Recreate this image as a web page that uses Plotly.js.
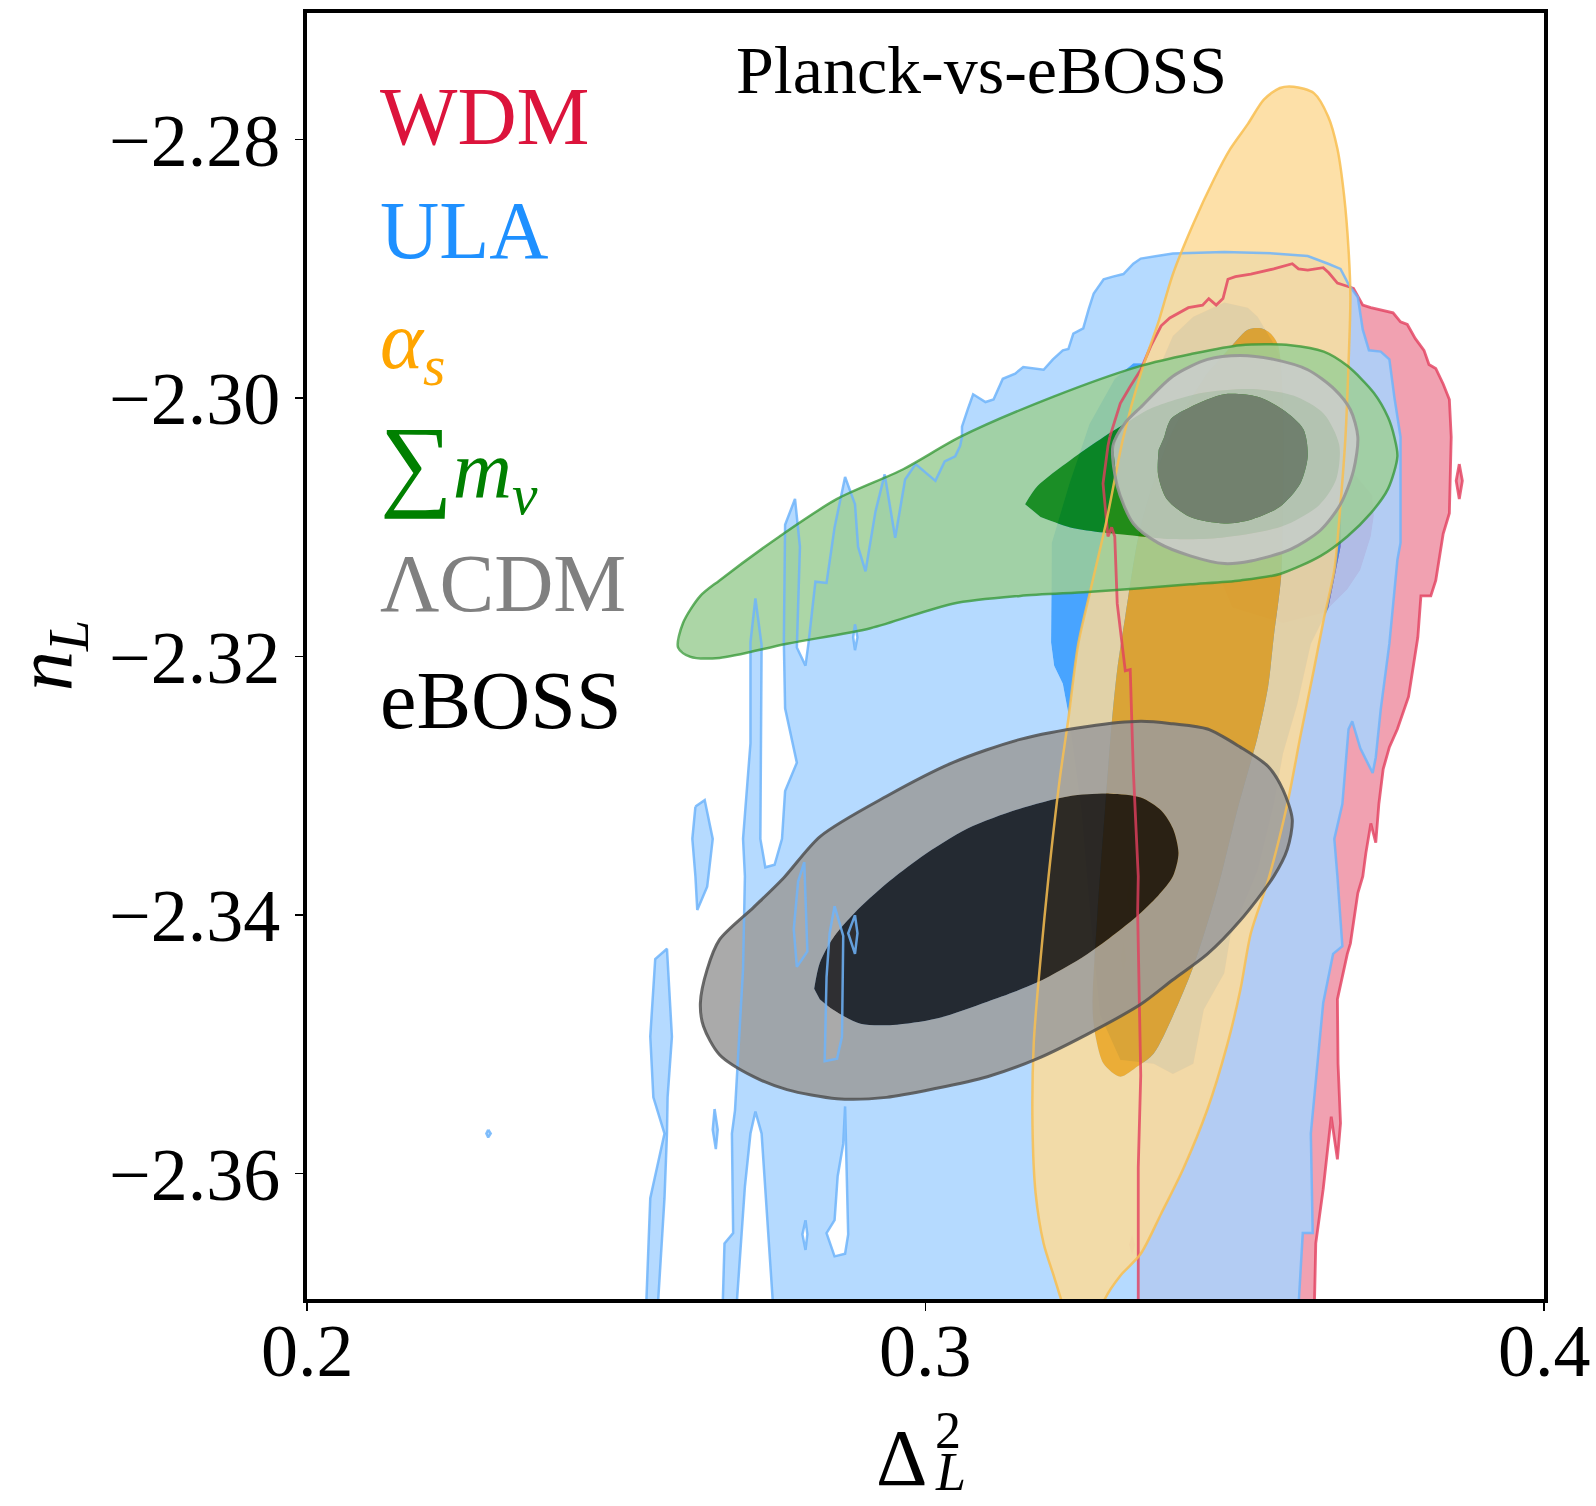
<!DOCTYPE html>
<html>
<head>
<meta charset="utf-8">
<script src="https://cdn.plot.ly/plotly-3.0.1.min.js"></script>
<style>html,body{margin:0;padding:0;background:#fff;}</style>
</head>
<body>
<div id="chart" style="width:1596px;height:1506px;"></div>
<script>
// Posterior contours in the (Delta_L^2, n_L) plane. Each region is a closed outline
// in data units; the 68% region is cut out of the 95% band as a hole.

// ---- WDM ----
const wdm95X = [0.3298,0.3315,0.3331,0.3348,0.3364,0.3381,0.3395,0.3425,0.3448,0.3458,0.3470,0.3481,0.3489,0.3501,0.3526,0.3563,0.3593,0.3603,0.3618,0.3643,0.3652,0.3666,0.3692,0.3707,0.3720,0.3756,0.3768,0.3779,0.3792,0.3806,0.3814,0.3825,0.3837,0.3847,0.3850,0.3847,0.3837,0.3825,0.3817,0.3801,0.3796,0.3781,0.3763,0.3750,0.3740,0.3733,0.3728,0.3720,0.3712,0.3707,0.3699,0.3687,0.3682,0.3666,0.3667,0.3671,0.3666,0.3656,0.3643,0.3631,0.3628,0.3344,0.3344,0.3348,0.3343,0.3344,0.3336,0.3331,0.3323,0.3310,0.3306,0.3301,0.3295,0.3287,0.3295];
const wdm95Y = [-2.3030,-2.3004,-2.2991,-2.2978,-2.2960,-2.2944,-2.2938,-2.2930,-2.2928,-2.2923,-2.2928,-2.2923,-2.2908,-2.2906,-2.2904,-2.2900,-2.2896,-2.2900,-2.2901,-2.2899,-2.2903,-2.2911,-2.2915,-2.2928,-2.2930,-2.2934,-2.2941,-2.2943,-2.2954,-2.2963,-2.2974,-2.2977,-2.2989,-2.3001,-2.3030,-2.3089,-2.3105,-2.3141,-2.3153,-2.3153,-2.3185,-2.3231,-2.3256,-2.3270,-2.3287,-2.3314,-2.3344,-2.3329,-2.3352,-2.3370,-2.3383,-2.3422,-2.3430,-2.3465,-2.3515,-2.3561,-2.3589,-2.3556,-2.3612,-2.3654,-2.3720,-2.3720,-2.3595,-2.3524,-2.3398,-2.3370,-2.3288,-2.3210,-2.3211,-2.3159,-2.3107,-2.3100,-2.3107,-2.3066,-2.3037];
const wdmIslandX = [0.3863,0.3868,0.3863,0.3858];
const wdmIslandY = [-2.3051,-2.3064,-2.3078,-2.3064];
const wdm68X = [0.3463,0.3578,0.3694,0.3722,0.3725,0.3720,0.3703,0.3682,0.3644,0.3578,0.3496,0.3455];
const wdm68Y = [-2.3059,-2.3053,-2.3059,-2.3075,-2.3091,-2.3107,-2.3133,-2.3148,-2.3166,-2.3174,-2.3162,-2.3115];
const wdm68SpotsX = [[0.3331,0.3338,0.3331,0.3325],[0.3320,0.3325,0.3320,0.3315],[0.3334,0.3339,0.3334,0.3329]];
const wdm68SpotsY = [[-2.3371,-2.3386,-2.3401,-2.3386],[-2.3420,-2.3433,-2.3445,-2.3433],[-2.3647,-2.3655,-2.3663,-2.3655]];

// ---- ULA ----
const ula95X = [0.2671,0.2675,0.2689,0.2687,0.2692,0.2705,0.2708,0.2705,0.2717,0.2717,0.2725,0.2735,0.2733,0.2741,0.2756,0.2768,0.2773,0.2792,0.2773,0.2771,0.2773,0.2789,0.2797,0.2792,0.2806,0.2811,0.2822,0.2840,0.2853,0.2870,0.2886,0.2891,0.2903,0.2919,0.2934,0.2951,0.2967,0.2984,0.3016,0.3031,0.3048,0.3056,0.3059,0.3059,0.3068,0.3077,0.3097,0.3110,0.3125,0.3145,0.3158,0.3191,0.3206,0.3222,0.3231,0.3239,0.3255,0.3264,0.3272,0.3288,0.3303,0.3320,0.3336,0.3348,0.3400,0.3483,0.3563,0.3618,0.3651,0.3671,0.3684,0.3699,0.3707,0.3717,0.3736,0.3750,0.3758,0.3768,0.3768,0.3763,0.3750,0.3736,0.3728,0.3723,0.3703,0.3690,0.3684,0.3674,0.3661,0.3666,0.3674,0.3659,0.3643,0.3623,0.3626,0.3610,0.3601,0.2756,0.2735,0.2725,0.2717,0.2708,0.2692];
const ula95Y = [-2.3720,-2.3654,-2.3646,-2.3569,-2.3551,-2.3442,-2.3370,-2.3341,-2.3267,-2.3189,-2.3155,-2.3191,-2.3341,-2.3363,-2.3361,-2.3341,-2.3304,-2.3282,-2.3240,-2.3189,-2.3098,-2.3078,-2.3115,-2.3193,-2.3207,-2.3189,-2.3142,-2.3143,-2.3100,-2.3061,-2.3082,-2.3115,-2.3134,-2.3088,-2.3059,-2.3108,-2.3063,-2.3051,-2.3064,-2.3049,-2.3045,-2.3037,-2.3030,-2.3022,-2.3009,-2.2997,-2.3003,-2.3001,-2.2985,-2.2981,-2.2976,-2.2978,-2.2970,-2.2963,-2.2962,-2.2950,-2.2946,-2.2931,-2.2919,-2.2908,-2.2906,-2.2904,-2.2896,-2.2892,-2.2888,-2.2887,-2.2888,-2.2890,-2.2896,-2.2900,-2.2912,-2.2922,-2.2947,-2.2963,-2.2964,-2.2970,-2.2999,-2.3030,-2.3112,-2.3125,-2.3190,-2.3241,-2.3278,-2.3290,-2.3271,-2.3250,-2.3256,-2.3314,-2.3341,-2.3370,-2.3424,-2.3430,-2.3468,-2.3569,-2.3646,-2.3646,-2.3720,-2.3720,-2.3569,-2.3552,-2.3569,-2.3610,-2.3720];
const ulaIslandsX = [[0.2547,0.2555,0.2578,0.2560,0.2555,0.2563,0.2582,0.2590,0.2583,0.2582,0.2578,0.2565],[0.2628,0.2643,0.2656,0.2649,0.2647,0.2631,0.2628,0.2623],[0.2659,0.2664,0.2661,0.2656],[0.2293,0.2297,0.2293,0.2290]];
const ulaIslandsY = [[-2.3720,-2.3619,-2.3569,-2.3541,-2.3494,-2.3434,-2.3426,-2.3494,-2.3541,-2.3569,-2.3619,-2.3720],[-2.3316,-2.3311,-2.3341,-2.3370,-2.3378,-2.3396,-2.3370,-2.3341],[-2.3550,-2.3566,-2.3581,-2.3566],[-2.3566,-2.3569,-2.3572,-2.3569]];
const ulaHolesX = [[0.2870,0.2875,0.2870,0.2853,0.2840,0.2853,0.2858,0.2867],[0.2853,0.2867,0.2865,0.2857,0.2837,0.2840,0.2845],[0.2804,0.2809,0.2792,0.2787,0.2794],[0.2886,0.2890,0.2886,0.2875],[0.2806,0.2809,0.2806,0.2801],[0.2886,0.2890,0.2886,0.2883]];
const ulaHolesY = [[-2.3548,-2.3647,-2.3662,-2.3664,-2.3646,-2.3636,-2.3602,-2.3577],[-2.3393,-2.3416,-2.3494,-2.3511,-2.3513,-2.3448,-2.3414],[-2.3359,-2.3428,-2.3440,-2.3411,-2.3374],[-2.3400,-2.3414,-2.3430,-2.3414],[-2.3636,-2.3647,-2.3659,-2.3647],[-2.3175,-2.3185,-2.3195,-2.3185]];
const ula68X = [0.3204,0.3203,0.3203,0.3208,0.3222,0.3231,0.3252,0.3267,0.3282,0.3315,0.3369,0.3400,0.3433,0.3450,0.3483,0.3493,0.3537,0.3563,0.3578,0.3601,0.3623,0.3651,0.3671,0.3671,0.3644,0.3611,0.3577,0.3563,0.3537,0.3521,0.3483,0.3433,0.3400,0.3381,0.3336,0.3306,0.3265,0.3232];
const ula68Y = [-2.3112,-2.3153,-2.3189,-2.3207,-2.3221,-2.3244,-2.3319,-2.3404,-2.3477,-2.3512,-2.3515,-2.3523,-2.3515,-2.3473,-2.3445,-2.3416,-2.3365,-2.3314,-2.3275,-2.3237,-2.3190,-2.3163,-2.3115,-2.3083,-2.3020,-2.2989,-2.2973,-2.2958,-2.2937,-2.2930,-2.2926,-2.2937,-2.2952,-2.2973,-2.2973,-2.2985,-2.3020,-2.3067];

// ---- alpha_s ----
const as95X = [0.3595,0.3628,0.3651,0.3666,0.3677,0.3684,0.3687,0.3684,0.3679,0.3671,0.3661,0.3644,0.3628,0.3606,0.3585,0.3554,0.3526,0.3509,0.3488,0.3456,0.3417,0.3381,0.3348,0.3315,0.3290,0.3273,0.3236,0.3219,0.3208,0.3191,0.3178,0.3173,0.3175,0.3186,0.3199,0.3217,0.3231,0.3247,0.3267,0.3293,0.3320,0.3348,0.3376,0.3400,0.3433,0.3466,0.3493,0.3521,0.3547,0.3573];
const as95Y = [-2.2759,-2.2764,-2.2782,-2.2807,-2.2844,-2.2885,-2.2922,-2.2973,-2.3030,-2.3082,-2.3133,-2.3171,-2.3210,-2.3262,-2.3314,-2.3373,-2.3414,-2.3458,-2.3500,-2.3550,-2.3596,-2.3631,-2.3662,-2.3679,-2.3697,-2.3720,-2.3720,-2.3697,-2.3680,-2.3654,-2.3615,-2.3563,-2.3499,-2.3434,-2.3370,-2.3295,-2.3248,-2.3190,-2.3148,-2.3094,-2.3030,-2.2981,-2.2942,-2.2904,-2.2865,-2.2831,-2.2807,-2.2788,-2.2769,-2.2760];
const as68X = [0.3498,0.3521,0.3542,0.3558,0.3570,0.3578,0.3578,0.3575,0.3563,0.3554,0.3537,0.3504,0.3471,0.3433,0.3400,0.3369,0.3343,0.3315,0.3288,0.3275,0.3270,0.3278,0.3290,0.3301,0.3310,0.3323,0.3348,0.3397,0.3455];
const as68Y = [-2.2958,-2.2947,-2.2946,-2.2950,-2.2959,-2.3004,-2.3083,-2.3138,-2.3185,-2.3223,-2.3262,-2.3319,-2.3382,-2.3440,-2.3478,-2.3507,-2.3517,-2.3525,-2.3515,-2.3494,-2.3473,-2.3398,-2.3319,-2.3252,-2.3210,-2.3169,-2.3099,-2.3028,-2.2981];

// ---- sum of neutrino masses ----
const mnu95X = [0.2600,0.2608,0.2636,0.2667,0.2764,0.2857,0.2964,0.3056,0.3206,0.3348,0.3428,0.3509,0.3590,0.3644,0.3682,0.3725,0.3748,0.3758,0.3763,0.3748,0.3720,0.3682,0.3639,0.3573,0.3509,0.3428,0.3348,0.3262,0.3153,0.3044,0.2911,0.2776,0.2667,0.2619];
const mnu95Y = [-2.3193,-2.3174,-2.3153,-2.3141,-2.3107,-2.3078,-2.3055,-2.3030,-2.2999,-2.2975,-2.2966,-2.2959,-2.2959,-2.2964,-2.2975,-2.2996,-2.3015,-2.3030,-2.3045,-2.3070,-2.3089,-2.3107,-2.3122,-2.3136,-2.3141,-2.3144,-2.3147,-2.3150,-2.3153,-2.3159,-2.3178,-2.3190,-2.3201,-2.3200];
const mnu68X = [0.3161,0.3181,0.3234,0.3288,0.3315,0.3364,0.3446,0.3529,0.3595,0.3644,0.3669,0.3664,0.3636,0.3578,0.3479,0.3397,0.3348,0.3288,0.3234,0.3186];
const mnu68Y = [-2.3082,-2.3068,-2.3048,-2.3030,-2.3022,-2.3008,-2.2996,-2.2993,-2.2998,-2.3012,-2.3036,-2.3063,-2.3083,-2.3099,-2.3108,-2.3109,-2.3107,-2.3104,-2.3100,-2.3092];

// ---- LCDM ----
const lcdm95X = [0.3303,0.3323,0.3348,0.3400,0.3456,0.3509,0.3563,0.3618,0.3661,0.3687,0.3699,0.3692,0.3671,0.3639,0.3590,0.3526,0.3483,0.3428,0.3376,0.3336,0.3310];
const lcdm95Y = [-2.3037,-2.3019,-2.3007,-2.2983,-2.2970,-2.2967,-2.2970,-2.2978,-2.2993,-2.3009,-2.3030,-2.3056,-2.3082,-2.3102,-2.3117,-2.3126,-2.3128,-2.3122,-2.3112,-2.3097,-2.3068];
const lcdm68X = [0.3386,0.3397,0.3428,0.3483,0.3537,0.3578,0.3611,0.3618,0.3606,0.3573,0.3526,0.3483,0.3428,0.3390,0.3376,0.3377];
const lcdm68Y = [-2.3030,-2.3016,-2.3007,-2.2997,-2.2999,-2.3009,-2.3024,-2.3045,-2.3066,-2.3084,-2.3094,-2.3097,-2.3092,-2.3078,-2.3059,-2.3040];

// ---- eBOSS ----
const eboss95X = [0.2636,0.2647,0.2667,0.2722,0.2771,0.2830,0.2937,0.3044,0.3153,0.3262,0.3348,0.3400,0.3456,0.3509,0.3554,0.3578,0.3593,0.3585,0.3563,0.3509,0.3456,0.3400,0.3348,0.3262,0.3181,0.3100,0.3018,0.2937,0.2857,0.2776,0.2722,0.2667,0.2641];
const eboss95Y = [-2.3468,-2.3442,-2.3419,-2.3394,-2.3371,-2.3339,-2.3308,-2.3282,-2.3264,-2.3254,-2.3250,-2.3252,-2.3256,-2.3270,-2.3285,-2.3303,-2.3326,-2.3349,-2.3370,-2.3404,-2.3430,-2.3450,-2.3469,-2.3492,-2.3511,-2.3525,-2.3534,-2.3541,-2.3542,-2.3535,-2.3525,-2.3508,-2.3486];
const eboss68X = [0.2820,0.2829,0.2850,0.2886,0.2936,0.2993,0.3068,0.3150,0.3232,0.3298,0.3348,0.3381,0.3400,0.3409,0.3400,0.3376,0.3339,0.3262,0.3181,0.3100,0.3018,0.2947,0.2895,0.2850,0.2829];
const eboss68Y = [-2.3457,-2.3437,-2.3418,-2.3398,-2.3376,-2.3355,-2.3333,-2.3318,-2.3308,-2.3306,-2.3309,-2.3319,-2.3333,-2.3352,-2.3370,-2.3385,-2.3402,-2.3430,-2.3452,-2.3467,-2.3480,-2.3485,-2.3484,-2.3473,-2.3465];

// ---- axes ----
const xTickVals = [0.2, 0.3, 0.4];
const xTickText = ['0.2', '0.3', '0.4'];
const yTickVals = [-2.36, -2.34, -2.32, -2.30, -2.28];
const yTickText = ['\u22122.36', '\u22122.34', '\u22122.32', '\u22122.30', '\u22122.28'];

// ---- legend labels ----
const legendLabels = ['WDM', 'ULA', '<i>\u03b1</i><sub><i>s</i></sub>', '<span style="font-size:102px">\u2211</span><i>m</i><sub><i>\u03bd</i></sub>', '\u039bCDM', 'eBOSS'];
const legendColors = ['#DC143C', '#1E90FF', '#FFA500', '#008000', '#808080', '#000000'];

// ---------- helpers ----------
function signedArea(xs, ys) {
  let s = 0;
  for (let i = 0; i < xs.length; i++) {
    const j = (i + 1) % xs.length;
    s += xs[i] * ys[j] - xs[j] * ys[i];
  }
  return s;
}
function orient(xs, ys, positive) {
  if ((signedArea(xs, ys) > 0) === positive) return [xs.slice(), ys.slice()];
  return [xs.slice().reverse(), ys.slice().reverse()];
}
// Outer rings share one winding, holes get the opposite one, so the
// non-zero fill rule leaves the holes empty.
function region(outers, holes) {
  const X = [], Y = [];
  const add = (xs, ys, pos) => {
    const [a, b] = orient(xs, ys, pos);
    if (X.length) { X.push(null); Y.push(null); }
    X.push(...a); Y.push(...b);
  };
  outers.forEach(p => add(p[0], p[1], true));
  (holes || []).forEach(p => add(p[0], p[1], false));
  return { x: X, y: Y };
}
function outline(rings) {
  const X = [], Y = [];
  rings.forEach(p => {
    if (X.length) { X.push(null); Y.push(null); }
    X.push(...p[0], p[0][0]); Y.push(...p[1], p[1][0]);
  });
  return { x: X, y: Y };
}
function fillTrace(r, color, shape) {
  return { type: 'scatter', mode: 'lines', x: r.x, y: r.y, fill: 'toself', fillcolor: color,
           line: { width: 0, color: color, shape: shape || 'linear', smoothing: 0.8 },
           hoverinfo: 'skip', showlegend: false, connectgaps: false };
}
function lineTrace(r, color, w, shape) {
  return { type: 'scatter', mode: 'lines', x: r.x, y: r.y,
           line: { width: w, color: color, simplify: false, shape: shape || 'linear', smoothing: 0.8 },
           hoverinfo: 'skip', showlegend: false, connectgaps: false };
}

const ulaIslands = ulaIslandsX.map((xs, i) => [xs, ulaIslandsY[i]]);
const ulaHoles = ulaHolesX.map((xs, i) => [xs, ulaHolesY[i]]);
const wdmSpots = wdm68SpotsX.map((xs, i) => [xs, wdm68SpotsY[i]]);
const S = 'spline';

const traces = [
  fillTrace(region([[wdm95X, wdm95Y], [wdmIslandX, wdmIslandY]], [[wdm68X, wdm68Y]]), 'rgba(239,144,163,0.85)'),
  fillTrace(region([[wdm68X, wdm68Y]].concat(wdmSpots)), 'rgba(220,20,60,0.85)'),
  fillTrace(region([[ula95X, ula95Y]].concat(ulaIslands), [[ula68X, ula68Y]].concat(ulaHoles)), 'rgba(168,211,255,0.85)'),
  fillTrace(region([[ula68X, ula68Y]]), 'rgba(40,148,255,0.85)'),
  fillTrace(region([[as95X, as95Y]], [[as68X, as68Y]]), 'rgba(253,218,153,0.85)', S),
  fillTrace(region([[as68X, as68Y]]), 'rgba(245,165,20,0.85)', S),
  fillTrace(region([[mnu95X, mnu95Y]], [[mnu68X, mnu68Y]]), 'rgba(157,207,150,0.85)', S),
  fillTrace(region([[mnu68X, mnu68Y]]), 'rgba(0,128,0,0.85)', S),
  fillTrace(region([[lcdm95X, lcdm95Y]], [[lcdm68X, lcdm68Y]]), 'rgba(205,205,205,0.85)', S),
  fillTrace(region([[lcdm68X, lcdm68Y]]), 'rgba(128,128,128,0.85)', S),
  fillTrace(region([[eboss95X, eboss95Y]], [[eboss68X, eboss68Y]]), 'rgba(155,155,155,0.85)', S),
  fillTrace(region([[eboss68X, eboss68Y]]), 'rgba(10,10,14,0.85)', S),
  // outlines on top of all fills
  lineTrace(outline([[wdm95X, wdm95Y], [wdmIslandX, wdmIslandY]]), 'rgba(226,62,94,0.8)', 2.8),
  lineTrace(outline([[ula95X, ula95Y]].concat(ulaIslands, ulaHoles)), 'rgba(110,180,250,0.85)', 2.5),
  lineTrace(outline([[as95X, as95Y]]), 'rgba(248,190,80,0.85)', 2.5, S),
  lineTrace(outline([[mnu95X, mnu95Y]]), 'rgba(50,150,50,0.75)', 2.5, S),
  lineTrace(outline([[lcdm95X, lcdm95Y]]), 'rgba(150,150,150,0.9)', 3, S),
  lineTrace(outline([[eboss95X, eboss95Y]]), 'rgba(80,80,80,0.85)', 3, S)
];

// plot-area pixel frame, used to place free text
const PL = 307, PR = 1544, PT = 13, PB = 1299;
const px = v => (v - PL) / (PR - PL);
const py = v => (PB - v) / (PB - PT);
const serif = 'Liberation Serif, Times New Roman, serif';

const legendCenters = [116, 231, 346, 466, 583, 700];
const annotations = legendLabels.map((t, i) => ({
  text: t, xref: 'paper', yref: 'paper', x: px(378), y: py(legendCenters[i]),
  xanchor: 'left', yanchor: 'middle', showarrow: false,
  font: { family: serif, size: 82, color: legendColors[i] }
}));
// x tick labels, centred under their ticks
xTickVals.forEach((v, i) => annotations.push({
  text: xTickText[i], xref: 'x', yref: 'paper', x: v, y: py(1351), xanchor: 'center', yanchor: 'middle',
  showarrow: false, font: { family: serif, size: 74, color: '#000' }
}));
annotations.push(
  { text: 'Planck-vs-eBOSS', xref: 'paper', yref: 'paper', x: px(982), y: py(70), xanchor: 'center', yanchor: 'middle',
    showarrow: false, font: { family: serif, size: 68, color: '#000' } },
  { text: '\u0394', xref: 'paper', yref: 'paper', x: px(901), y: py(1458), xanchor: 'center', yanchor: 'middle',
    showarrow: false, font: { family: serif, size: 80, color: '#000' } },
  { text: '2', xref: 'paper', yref: 'paper', x: px(948), y: py(1430), xanchor: 'center', yanchor: 'middle',
    showarrow: false, font: { family: serif, size: 52, color: '#000' } },
  { text: '<i>L</i>', xref: 'paper', yref: 'paper', x: px(950), y: py(1472), xanchor: 'center', yanchor: 'middle',
    showarrow: false, font: { family: serif, size: 54, color: '#000' } },
  { text: '<i>n</i><sub><i>L</i></sub>', xref: 'paper', yref: 'paper', x: px(50), y: py(656), xanchor: 'center', yanchor: 'middle',
    textangle: -90, showarrow: false, font: { family: serif, size: 80, color: '#000' } }
);

const axisCommon = {
  ticks: 'outside', ticklen: 8, tickwidth: 1.5, tickcolor: '#000',
  showline: true, linecolor: '#000', linewidth: 4, mirror: true,
  showgrid: false, zeroline: false, fixedrange: true,
  tickfont: { family: serif, size: 74, color: '#000' }
};

const layout = {
  width: 1596, height: 1506,
  margin: { l: PL, r: 1596 - PR, t: PT, b: 1506 - PB },
  paper_bgcolor: '#fff', plot_bgcolor: '#fff',
  showlegend: false,
  xaxis: Object.assign({}, axisCommon, { range: [0.2, 0.4], tickmode: 'array', tickvals: xTickVals, ticktext: xTickText, showticklabels: false }),
  yaxis: Object.assign({}, axisCommon, { range: [-2.3697, -2.2702], tickmode: 'array', tickvals: yTickVals, ticktext: yTickText, ticklabelstandoff: 0 }),
  annotations: annotations
};

Plotly.newPlot('chart', traces, layout, { displayModeBar: false, staticPlot: true });
</script>
</body>
</html>
